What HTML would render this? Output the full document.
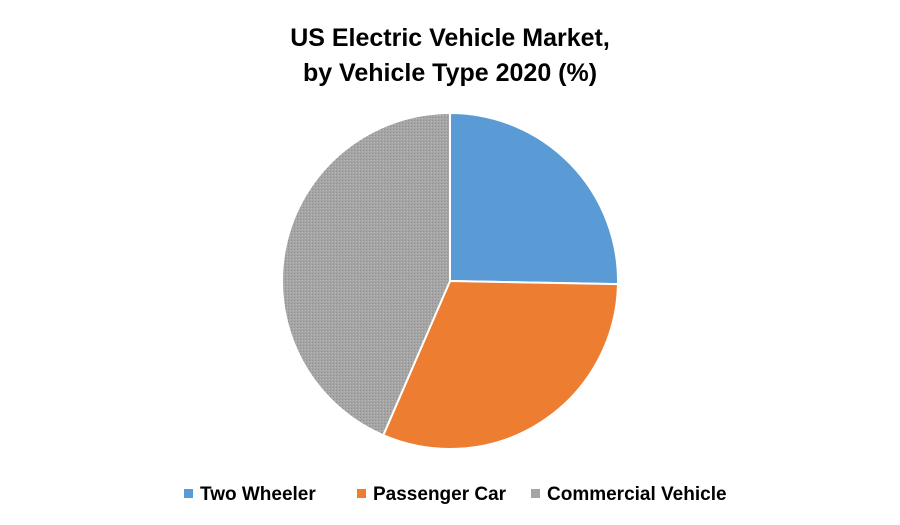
<!DOCTYPE html>
<html><head><meta charset="utf-8"><style>
body{margin:0;background:#fff;}
svg{display:block;font-family:"Liberation Sans",Arial,sans-serif;}
</style></head><body>
<svg width="900" height="525" viewBox="0 0 900 525">
<defs>
<pattern id="gp" width="3" height="3" patternUnits="userSpaceOnUse">
<rect width="3" height="3" fill="#a5a5a5"/>
<rect width="1" height="1" fill="#8f8f8f"/>
<rect x="2" y="1" width="1" height="1" fill="#b8b8b8"/>
</pattern>
</defs>
<text x="450" y="46" text-anchor="middle" font-size="25" font-weight="bold" fill="#000">US Electric Vehicle Market,</text>
<text x="450" y="81" text-anchor="middle" font-size="25" font-weight="bold" fill="#000">by Vehicle Type 2020 (%)</text>
<g id="slices"></g>
<g id="legend"></g>
<script>
const categories=["Two Wheeler","Passenger Car","Commercial Vehicle"];
const values=[25.3,31.2,43.5];
const colors=["#5b9bd5","#ed7d31","url(#gp)"];
const legendColors=["#5b9bd5","#ed7d31","#a5a5a5"];
const cx=450,cy=281,r=168;
const ns="http://www.w3.org/2000/svg";
const g=document.getElementById("slices");
const total=values.reduce((a,b)=>a+b,0);
let a0=0;
values.forEach((v,i)=>{
  const a1=a0+v/total*2*Math.PI;
  const x0=cx+r*Math.sin(a0),y0=cy-r*Math.cos(a0);
  const x1=cx+r*Math.sin(a1),y1=cy-r*Math.cos(a1);
  const p=document.createElementNS(ns,"path");
  p.setAttribute("d",`M${cx},${cy}L${x0},${y0}A${r},${r} 0 ${a1-a0>Math.PI?1:0} 1 ${x1},${y1}Z`);
  p.setAttribute("fill",colors[i]);
  p.setAttribute("stroke","#fff");
  p.setAttribute("stroke-width","2");
  
  
  g.appendChild(p);
  a0=a1;
});
const lg=document.getElementById("legend");
const lx=[184,357,531];
categories.forEach((c,i)=>{
  const item=document.createElementNS(ns,"g");
  
  
  const s=document.createElementNS(ns,"rect");
  s.setAttribute("x",lx[i]);s.setAttribute("y",489);s.setAttribute("width",9);s.setAttribute("height",9);
  s.setAttribute("fill",legendColors[i]);
  const t=document.createElementNS(ns,"text");
  t.setAttribute("x",lx[i]+16);t.setAttribute("y",500);
  t.setAttribute("font-size","19");t.setAttribute("font-weight","bold");t.setAttribute("fill","#000");
  t.textContent=c;
  item.appendChild(s);item.appendChild(t);lg.appendChild(item);
});
</script>
</svg>
</body></html>
